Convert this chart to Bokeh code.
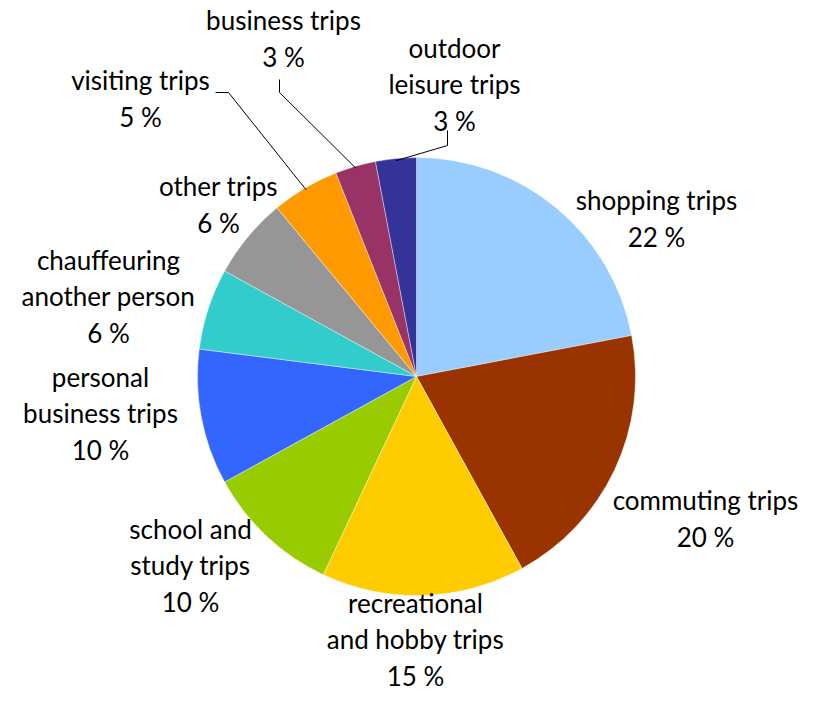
import math
from bokeh.plotting import figure
from bokeh.models import Range1d, ColumnDataSource
from bokeh.core.properties import value
from bokeh.embed import file_html
from bokeh.resources import INLINE

# ---- data ----
categories = ["shopping trips", "commuting trips", "recreational\nand hobby trips",
              "school and\nstudy trips", "personal\nbusiness trips",
              "chauffeuring\nanother person", "other trips", "visiting trips",
              "business trips", "outdoor\nleisure trips"]
shares = [22, 20, 15, 10, 10, 6, 6, 5, 3, 3]
colors = ["#99CCFF", "#993300", "#FFCC00", "#99CC00", "#3366FF",
          "#33CCCC", "#969696", "#FF9900", "#993366", "#333399"]

# ---- layout (screen pixel coords of reference, y measured from top) ----
W, H = 811, 696
CX, CY, R = 416, 376, 219
label_pos = [(656, 218), (705, 518), (415, 639), (190, 565), (100, 413),
             (108, 296), (218, 204), (140, 98), (283, 38), (454, 84)]
leader_pts = {7: [(215, 92), (228, 92)], 8: [(279, 79), (279, 92)], 9: [(447, 130), (447, 145)]}

def Y(y):
    return 704 - y

p = figure(width=W, height=H, output_backend="svg", toolbar_location=None,
           x_range=Range1d(0, W), y_range=Range1d(704 - H, 704),
           min_border=0)
p.axis.visible = False
p.grid.visible = False
p.outline_line_color = None

total = sum(shares)
starts, ends, mids = [], [], []
cum = 0
for v in shares:
    a0 = math.pi / 2 - 2 * math.pi * cum / total
    cum += v
    a1 = math.pi / 2 - 2 * math.pi * cum / total
    starts.append(a0)
    ends.append(a1)
    mids.append((a0 + a1) / 2)

src = ColumnDataSource(dict(x=[CX] * len(shares), y=[Y(CY)] * len(shares),
                            start=starts, end=ends, color=colors))
p.wedge(x="x", y="y", radius=R, radius_units="screen", start_angle="start", end_angle="end",
        direction="clock", fill_color="color", line_color="white", line_width=0.4, source=src)

# leader lines
for i, pts in leader_pts.items():
    ex = CX + R * 0.99 * math.cos(mids[i])
    ey = Y(CY) + R * 0.99 * math.sin(mids[i])
    xs = [q[0] for q in pts] + [ex]
    ys = [Y(q[1]) for q in pts] + [ey]
    p.line(xs, ys, line_color="black", line_width=1)

labels = [f"{c}\n{v} %" for c, v in zip(categories, shares)]
lsrc = ColumnDataSource(dict(x=[q[0] for q in label_pos], y=[Y(q[1]) for q in label_pos], t=labels))
p.text(x="x", y="y", text="t", source=lsrc, text_align="center", text_baseline="middle",
       text_font=value("Lato"), text_font_size="26px", text_line_height=1.15, text_color="black")

open("out.html", "w").write(file_html(p, INLINE))
